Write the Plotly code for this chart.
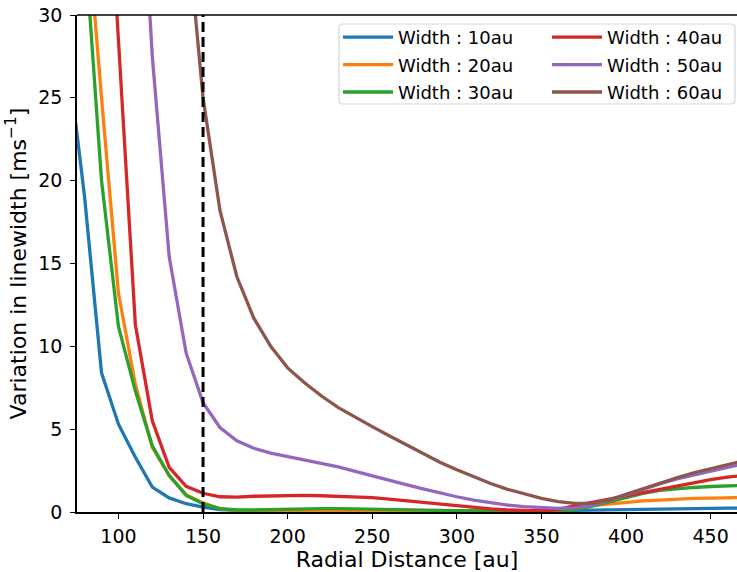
import plotly.graph_objects as go

radius = [70, 80, 90, 100, 110, 120, 130, 140, 150, 160, 170, 180, 190, 200, 210, 220, 230, 240,
          250, 260, 270, 280, 290, 300, 310, 320, 330, 340, 350, 360, 370, 380, 390, 400, 410,
          420, 430, 440, 450, 460, 470]

w10 = [27.5, 19.0, 8.4, 5.3, 3.3, 1.5, 0.85, 0.5, 0.3, 0.15, 0.1, 0.08, 0.07, 0.06, 0.05, 0.05, 0.05, 0.05,
       0.05, 0.05, 0.05, 0.05, 0.05, 0.05, 0.05, 0.05, 0.05, 0.05, 0.06, 0.08, 0.1, 0.12, 0.14, 0.16, 0.18,
       0.19, 0.2, 0.21, 0.22, 0.23, 0.24]
w20 = [52.0, 37.5, 25.0, 13.2, 7.7, 3.9, 2.2, 1.05, 0.55, 0.2, 0.1, 0.08, 0.08, 0.08, 0.08, 0.08, 0.08, 0.08,
       0.08, 0.08, 0.08, 0.08, 0.08, 0.07, 0.06, 0.06, 0.05, 0.05, 0.1, 0.2, 0.32, 0.42, 0.52, 0.6, 0.67,
       0.72, 0.78, 0.82, 0.84, 0.86, 0.87]
w30 = [49.0, 34.5, 20.0, 11.2, 7.3, 4.0, 2.2, 1.0, 0.5, 0.2, 0.12, 0.12, 0.15, 0.18, 0.2, 0.2, 0.2, 0.19,
       0.18, 0.16, 0.14, 0.12, 0.1, 0.08, 0.07, 0.06, 0.05, 0.05, 0.06, 0.08, 0.15, 0.35, 0.6, 0.88, 1.12,
       1.3, 1.4, 1.48, 1.54, 1.57, 1.6]
w40 = [80.0, 63.0, 46.0, 28.5, 11.3, 5.5, 2.7, 1.55, 1.13, 0.92, 0.9, 0.95, 0.98, 1.0, 1.0, 0.98, 0.96, 0.92,
       0.87, 0.78, 0.68, 0.57, 0.46, 0.36, 0.27, 0.19, 0.12, 0.07, 0.06, 0.15, 0.4, 0.58, 0.78, 1.0, 1.2,
       1.4, 1.6, 1.78, 1.95, 2.1, 2.22]
w50 = [100.0, 85.0, 70.0, 58.0, 45.0, 27.5, 15.4, 9.6, 6.6, 5.1, 4.3, 3.85, 3.55, 3.35, 3.15, 2.95, 2.72, 2.45,
       2.17, 1.9, 1.65, 1.4, 1.15, 0.92, 0.72, 0.55, 0.42, 0.32, 0.25, 0.22, 0.25, 0.4, 0.7, 1.05, 1.38,
       1.7, 2.0, 2.25, 2.5, 2.7, 2.9]
w60 = [140.0, 125.0, 110.0, 95.0, 80.0, 65.0, 50.0, 36.0, 25.0, 18.2, 14.2, 11.7, 10.0, 8.7, 7.8, 7.0, 6.3, 5.7,
       5.15, 4.6, 4.05, 3.5, 3.0, 2.55, 2.12, 1.72, 1.37, 1.07, 0.82, 0.63, 0.52, 0.52, 0.72, 1.07, 1.42,
       1.75, 2.07, 2.37, 2.63, 2.88, 3.1]

series = [w10, w20, w30, w40, w50, w60]
labels = ["Width : 10au", "Width : 20au", "Width : 30au", "Width : 40au", "Width : 50au", "Width : 60au"]
colors = ["#1f77b4", "#ff7f0e", "#2ca02c", "#d62728", "#9467bd", "#8c564b"]
marker_radius = 150
x_range = [75.5, 465.6]
y_range = [0, 30]
x_ticks = [100, 150, 200, 250, 300, 350, 400, 450]
y_ticks = [0, 5, 10, 15, 20, 25, 30]

FONT = "DejaVu Sans"
fig = go.Figure()
for i, (vals, lab, col) in enumerate(zip(series, labels, colors)):
    fig.add_trace(go.Scatter(
        x=radius, y=vals, mode="lines", name=lab,
        line=dict(color=col, width=3.3),
        legend="legend" if i < 3 else "legend2",
        legendgroup=lab,
    ))

fig.add_trace(go.Scatter(
    x=[marker_radius, marker_radius], y=y_range, mode="lines", showlegend=False,
    line=dict(color="black", width=3, dash="10px,5px"),
))

W, H = 737, 572
ml, mt, mb, mr = 77, 15, 60, 0
pw, ph = W - ml - mr, H - mt - mb

def px2x(p):
    return (p - ml) / pw

def px2y(p):
    return 1 - (p - mt) / ph

# legend frame (rounded rectangle)
x0, x1, y0, y1 = px2x(339), px2x(735), px2y(104), px2y(24)
rx, ry = 4 / pw, 4 / ph
path = (f"M {x0+rx},{y1} L {x1-rx},{y1} Q {x1},{y1} {x1},{y1-ry} L {x1},{y0+ry} "
        f"Q {x1},{y0} {x1-rx},{y0} L {x0+rx},{y0} Q {x0},{y0} {x0},{y0+ry} "
        f"L {x0},{y1-ry} Q {x0},{y1} {x0+rx},{y1} Z")
fig.add_shape(type="path", path=path, xref="paper", yref="paper",
              line=dict(color="#d5d5d5", width=1.2), fillcolor="rgba(255,255,255,0.8)", layer="above")
# top spine
fig.add_shape(type="line", xref="paper", yref="paper", x0=0, x1=1, y0=1, y1=1,
              line=dict(color="black", width=1.6))

leg_common = dict(
    font=dict(family=FONT, size=18, color="black"),
    bgcolor="rgba(0,0,0,0)", borderwidth=0, tracegroupgap=1,
    itemwidth=50, yanchor="top", xanchor="left",
)
fig.update_layout(
    width=W, height=H,
    margin=dict(l=ml, r=mr, t=mt, b=mb, autoexpand=False),
    paper_bgcolor="white", plot_bgcolor="white",
    font=dict(family=FONT, color="black"),
    legend=dict(x=px2x(338), y=px2y(19), **leg_common),
    legend2=dict(x=px2x(547), y=px2y(19), **leg_common),
    xaxis=dict(
        range=x_range, tickvals=x_ticks, showgrid=False, zeroline=False,
        showline=True, linecolor="black", linewidth=1.5,
        ticks="outside", ticklen=5, tickwidth=1.3, tickcolor="black",
        tickfont=dict(family=FONT, size=19, color="black"), ticklabelstandoff=1,
        title=dict(text="Radial Distance [au]", font=dict(family=FONT, size=22, color="black"), standoff=3),
        automargin=False,
    ),
    yaxis=dict(
        range=y_range, tickvals=y_ticks, showgrid=False, zeroline=False,
        showline=True, linecolor="black", linewidth=1.5,
        ticks="outside", ticklen=5, tickwidth=1.3, tickcolor="black",
        tickfont=dict(family=FONT, size=19, color="black"), ticklabelstandoff=4,
        title=dict(text="Variation in linewidth [ms<sup>−1</sup>]", font=dict(family=FONT, size=22, color="black"), standoff=6),
        automargin=False,
    ),
)

fig.write_html("out.html")
